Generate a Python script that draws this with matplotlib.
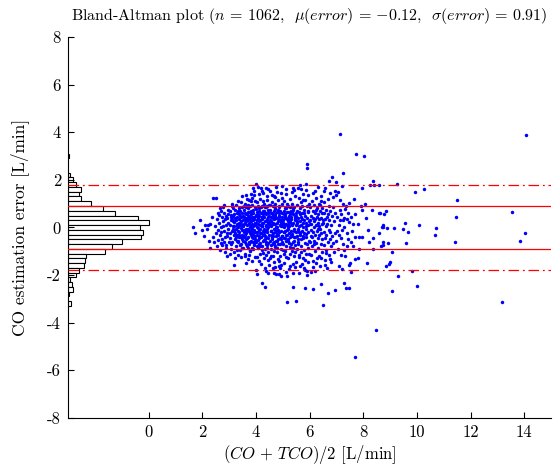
import numpy as np
import matplotlib
matplotlib.use("Agg")
import matplotlib.pyplot as plt

plt.rcParams['font.family'] = ['cmr10', 'DejaVu Serif']
plt.rcParams['mathtext.fontset'] = 'cm'
plt.rcParams['axes.unicode_minus'] = False

N_SAMPLES = 1062
MEAN_ERR = -0.12
STD_ERR = 0.91

# (mean, difference) pairs, grouped by x band
pts_left = [1.65,0.03, 1.72,-0.24, 1.90,0.32, 2.09,0.09, 2.21,0.09, 2.19,-0.08, 2.28,-0.87, 2.40,-0.41,
            2.52,-0.24, 2.40,1.24, 2.52,1.24, 2.05,-0.35, 2.30,0.15, 2.45,-0.6, 2.35,0.42, 1.98,-0.12,
            2.48,0.05, 2.25,-0.55]

pts_b = [2.69,0.71, 2.65,0.81, 2.55,0.35, 2.58,-0.1, 2.62,0.18, 2.6,-0.52, 2.66,-0.3, 2.7,0.02, 2.72,0.45,
         2.75,-0.72, 2.78,0.27, 2.8,-0.15, 2.83,0.6, 2.85,-0.4, 2.87,0.1, 2.9,-0.85, 2.92,0.38, 2.94,-0.22,
         2.96,0.75, 2.98,-0.05, 2.57,-0.78, 2.64,0.52, 2.73,-0.48, 2.77,0.85, 2.82,-0.62, 2.88,0.5,
         2.91,-0.35, 2.95,0.2, 2.99,-0.6, 2.68,-0.95, 2.86,-1.05, 2.8,0.95, 2.93,-1.2, 2.76,0.05, 2.7,-0.2,
         2.84,0.35, 2.97,0.55, 2.6,0.6, 2.89,-0.75, 2.71,-0.65]

pts_c = [3.02,0.12, 3.04,-0.45, 3.05,0.68, 3.07,-0.9, 3.08,0.3, 3.1,-0.15, 3.11,0.88, 3.12,-0.62, 3.14,0.05,
         3.15,0.5, 3.17,-1.59, 3.17,-0.32, 3.18,0.22, 3.2,-1.05, 3.21,0.72, 3.22,-0.5, 3.24,0.4, 3.25,-0.05,
         3.26,0.95, 3.27,-0.78, 3.28,0.15, 3.3,-0.3, 3.31,0.6, 3.32,-1.15, 3.33,0.02, 3.35,-0.6, 3.36,0.35,
         3.37,0.8, 3.38,-0.2, 3.4,-0.95, 3.41,0.48, 3.42,0.1, 3.43,-0.4, 3.44,1.05, 3.45,-0.7, 3.46,0.25,
         3.47,-0.1, 3.48,1.32, 3.49,0.62, 3.5,-0.5, 3.03,-0.25, 3.06,0.45, 3.09,-0.7, 3.13,0.25, 3.16,-0.05,
         3.19,0.55, 3.23,-0.25, 3.26,0.3, 3.29,-0.55, 3.32,0.7, 3.34,-0.15, 3.39,0.2, 3.42,-0.75, 3.45,0.45,
         3.48,-0.3, 3.12,1.0, 3.22,-1.3, 3.35,1.1, 3.45,-1.25, 3.28,-0.95, 3.05,-1.1, 3.15,0.8, 3.38,0.55,
         3.47,0.85, 3.2,0.05, 3.3,0.42, 3.36,-0.4, 3.43,-0.02, 3.1,0.35, 3.25,-0.42]

pts_d = [3.51,0.3, 3.52,-0.85, 3.53,0.05, 3.54,0.72, 3.55,-0.35, 3.56,0.45, 3.57,-0.1, 3.58,1.0, 3.59,-0.62,
         3.6,0.2, 3.61,-1.1, 3.62,-1.48, 3.62,0.55, 3.63,-0.25, 3.64,0.85, 3.65,-0.5, 3.66,0.1, 3.67,0.4,
         3.68,-0.8, 3.69,0.65, 3.7,-0.05, 3.71,-1.34, 3.71,0.3, 3.72,-0.4, 3.73,1.15, 3.74,-0.15, 3.75,0.5,
         3.76,-0.7, 3.77,0.0, 3.78,0.9, 3.79,-1.0, 3.8,0.25, 3.81,-0.3, 3.82,0.7, 3.83,-0.55, 3.84,0.15,
         3.85,1.25, 3.86,-0.2, 3.87,0.45, 3.88,-0.9, 3.89,1.65, 3.89,0.05, 3.9,-0.45, 3.91,0.6, 3.92,1.52,
         3.92,-0.1, 3.93,0.35, 3.94,-0.65, 3.95,0.85, 3.96,-1.25, 3.97,0.2, 3.98,-0.35, 3.99,-1.79, 3.99,0.5,
         3.53,-0.55, 3.55,0.9, 3.58,-0.3, 3.6,0.6, 3.63,-0.7, 3.65,0.35, 3.68,-0.15, 3.7,0.8, 3.73,-0.6,
         3.75,0.15, 3.77,-0.95, 3.8,0.55, 3.82,-0.1, 3.84,0.95, 3.87,-0.4, 3.9,0.3, 3.93,-0.75, 3.95,0.1,
         3.97,-0.5, 3.57,0.15, 3.62,-0.05, 3.67,-0.45, 3.72,0.45, 3.78,-0.25, 3.83,0.4, 3.88,-0.6, 3.91,0.75,
         3.96,-0.2, 3.98,1.1, 3.54,-0.2, 3.66,1.2, 3.74,-1.15, 3.81,1.4, 3.86,-1.4, 3.94,1.35, 3.59,-1.2,
         3.76,0.65, 3.85,-0.85, 3.61,0.4]

pts_e = [4.01,0.2, 4.02,1.83, 4.02,-0.6, 4.03,0.65, 4.04,-1.95, 4.04,0.0, 4.05,-0.3, 4.06,1.05, 4.07,0.4,
         4.08,-0.85, 4.09,1.71, 4.09,0.15, 4.1,-0.45, 4.11,0.8, 4.12,-0.1, 4.13,0.5, 4.14,-1.1, 4.15,0.3,
         4.16,-0.65, 4.17,1.2, 4.18,-0.25, 4.19,0.6, 4.2,1.65, 4.2,-0.4, 4.21,0.05, 4.22,0.9, 4.23,-0.8,
         4.24,-2.32, 4.24,1.55, 4.24,0.35, 4.25,-0.15, 4.26,0.7, 4.27,-0.55, 4.28,0.2, 4.29,-1.3, 4.3,1.0,
         4.31,-0.05, 4.32,0.45, 4.33,-0.9, 4.34,-2.49, 4.34,0.25, 4.35,-0.35, 4.36,0.85, 4.37,1.65, 4.37,-0.6,
         4.38,0.1, 4.39,0.55, 4.4,-0.2, 4.41,1.3, 4.42,-0.75, 4.43,0.35, 4.44,-0.45, 4.45,-1.37, 4.45,0.75,
         4.46,0.0, 4.47,-1.05, 4.48,0.5, 4.49,-1.59, 4.49,-0.3, 4.5,0.95, 4.03,-0.2, 4.06,0.3, 4.08,0.55,
         4.11,-0.7, 4.13,-0.35, 4.16,0.1, 4.18,0.85, 4.21,-0.95, 4.23,0.45, 4.26,-0.3, 4.28,1.1, 4.31,0.6,
         4.33,-0.5, 4.36,0.05, 4.38,-1.15, 4.41,0.25, 4.43,0.9, 4.46,-0.65, 4.48,0.15, 4.05,-1.25, 4.12,1.4,
         4.19,-1.55, 4.27,1.45, 4.35,-1.7, 4.42,1.15, 4.47,-1.9, 4.14,-0.05, 4.22,0.2, 4.29,-0.15, 4.39,-0.4,
         4.44,0.6, 4.07,0.9, 4.32,0.7, 4.4,-0.85, 4.15,-0.8, 4.25,0.55]

pts_f = [4.51,0.3, 4.52,-0.55, 4.53,0.75, 4.54,1.55, 4.55,-0.15, 4.56,0.45, 4.57,-0.9, 4.58,0.1, 4.59,1.05,
         4.6,-0.4, 4.61,0.6, 4.62,-1.2, 4.63,0.2, 4.64,-0.25, 4.65,0.9, 4.66,-1.92, 4.66,-0.6, 4.67,0.35,
         4.68,1.3, 4.69,-0.05, 4.7,-1.65, 4.7,0.55, 4.71,-0.8, 4.72,0.15, 4.73,0.8, 4.74,-0.35, 4.75,1.7,
         4.76,-1.95, 4.76,0.4, 4.77,-0.1, 4.78,-1.05, 4.79,0.65, 4.8,0.0, 4.81,-0.5, 4.82,1.15, 4.83,0.25,
         4.84,-0.7, 4.85,0.5, 4.86,-1.95, 4.86,-0.2, 4.87,0.85, 4.88,-1.4, 4.89,-1.69, 4.89,0.1, 4.9,-0.45,
         4.91,0.7, 4.92,-0.9, 4.93,0.3, 4.94,1.45, 4.95,-2.04, 4.95,-0.15, 4.96,0.6, 4.97,-0.6, 4.98,0.05,
         4.99,1.0, 4.52,0.95, 4.55,-0.75, 4.58,0.6, 4.61,-0.3, 4.64,0.4, 4.67,-1.0, 4.7,-0.2, 4.73,1.0,
         4.76,-0.55, 4.79,0.2, 4.82,-0.3, 4.85,0.9, 4.88,0.35, 4.91,-1.2, 4.94,0.15, 4.97,-0.35, 4.53,-1.3,
         4.6,1.35, 4.69,-1.45, 4.78,1.5, 4.87,-1.6, 4.96,1.25, 4.57,0.05, 4.63,-0.65, 4.72,0.5, 4.8,-0.85,
         4.84,0.75, 4.93,-0.5, 4.99,0.45, 4.65,0.15, 4.75,-0.15]

pts_g = [5.01,0.2, 5.02,-0.7, 5.03,0.55, 5.04,-0.2, 5.05,1.1, 5.06,0.0, 5.07,-1.0, 5.08,0.4, 5.09,-0.45,
         5.1,0.8, 5.11,-1.88, 5.11,0.15, 5.12,-0.3, 5.13,1.4, 5.14,-0.8, 5.15,0.35, 5.16,-3.14, 5.16,-0.1,
         5.17,-2.04, 5.17,0.65, 5.18,-0.55, 5.19,0.25, 5.2,-1.3, 5.21,0.9, 5.22,-0.25, 5.23,0.5, 5.24,-0.65,
         5.25,0.05, 5.26,1.2, 5.27,-0.4, 5.28,0.3, 5.29,-1.1, 5.3,0.7, 5.31,-0.15, 5.32,0.45, 5.33,-0.85,
         5.34,1.0, 5.35,-0.35, 5.36,0.1, 5.37,-1.55, 5.38,1.67, 5.38,-2.49, 5.38,-1.92, 5.38,0.55, 5.39,-0.6,
         5.4,0.2, 5.41,-0.05, 5.42,0.85, 5.43,-1.2, 5.44,0.35, 5.45,-0.4, 5.46,1.3, 5.47,-0.75, 5.48,0.6,
         5.49,-0.2, 5.5,-3.1, 5.5,0.1, 5.03,-0.45, 5.06,0.7, 5.09,0.1, 5.12,-1.25, 5.15,1.0, 5.18,0.4,
         5.21,-0.5, 5.24,0.2, 5.27,0.85, 5.3,-0.3, 5.33,0.15, 5.36,-1.0, 5.39,0.75, 5.42,-0.55, 5.45,0.45,
         5.48,-1.45, 5.05,-1.5, 5.14,1.6, 5.25,-1.75, 5.35,1.5, 5.44,-1.65, 5.2,0.0, 5.29,0.55, 5.4,-0.85,
         5.47,0.3, 5.08,-0.15, 5.32,-0.7]

pts_h = [5.51,0.5, 5.52,-0.9, 5.53,0.2, 5.54,-0.35, 5.55,0.95, 5.56,-0.1, 5.57,1.65, 5.57,0.4, 5.58,-0.6,
         5.59,0.05, 5.6,1.25, 5.61,-1.15, 5.62,0.65, 5.63,-0.3, 5.64,0.25, 5.65,-1.6, 5.66,0.8, 5.67,-0.5,
         5.68,0.1, 5.69,1.05, 5.7,-0.8, 5.71,0.35, 5.72,-0.15, 5.73,0.6, 5.74,-1.3, 5.75,1.4, 5.76,0.0,
         5.77,-0.45, 5.78,0.75, 5.79,-0.95, 5.8,0.3, 5.81,-0.25, 5.82,1.15, 5.83,-2.56, 5.83,-0.65, 5.84,0.5,
         5.85,-0.05, 5.86,1.83, 5.86,-1.1, 5.87,0.2, 5.88,1.58, 5.88,-0.4, 5.89,0.9, 5.9,2.49, 5.9,-0.7,
         5.91,2.66, 5.91,-1.82, 5.92,-2.0, 5.92,0.4, 5.93,-0.2, 5.94,0.65, 5.95,-1.45, 5.96,0.1, 5.97,1.0,
         5.98,-0.55, 5.99,0.25, 5.53,0.7, 5.56,-0.7, 5.6,-0.2, 5.64,0.55, 5.68,-1.05, 5.72,0.9, 5.76,-0.35,
         5.8,0.6, 5.84,-1.35, 5.88,0.05, 5.94,-0.85, 5.62,-1.9, 5.7,1.6, 5.78,-1.7, 5.96,1.35]

pts_i = [6.01,0.3, 6.02,-0.6, 6.03,0.85, 6.04,-0.1, 6.05,0.5, 6.06,-1.15, 6.07,-1.87, 6.07,0.15, 6.08,-0.4,
         6.09,1.1, 6.1,-0.8, 6.11,-2.57, 6.11,0.4, 6.12,-0.2, 6.13,0.7, 6.14,-1.4, 6.15,0.0, 6.16,0.95,
         6.17,-0.55, 6.18,0.25, 6.19,1.55, 6.19,-1.82, 6.2,-0.3, 6.21,0.6, 6.22,-1.0, 6.23,0.1, 6.24,1.25,
         6.25,-0.65, 6.26,0.45, 6.27,-0.15, 6.28,0.8, 6.29,-1.3, 6.3,0.2, 6.31,-0.45, 6.32,1.71, 6.32,0.55,
         6.33,-0.85, 6.34,0.05, 6.35,1.0, 6.36,-0.3, 6.37,0.35, 6.38,-1.6, 6.39,0.7, 6.4,-0.05, 6.41,-2.39,
         6.41,-0.7, 6.42,0.4, 6.43,1.3, 6.44,-0.25, 6.45,0.15, 6.46,-1.05, 6.47,0.8, 6.48,-0.5, 6.49,0.3,
         6.05,-0.35, 6.15,-0.7, 6.25,0.75, 6.35,-1.2, 6.45,0.6, 6.2,0.35, 6.3,-0.05, 6.4,0.95]

pts_j = [6.5,-3.27, 6.51,0.2, 6.52,-0.75, 6.53,0.6, 6.54,-0.2, 6.55,1.05, 6.56,-1.35, 6.57,0.35, 6.58,-0.45,
         6.59,1.65, 6.6,0.05, 6.61,-0.95, 6.62,0.75, 6.63,-0.3, 6.64,0.45, 6.65,-1.7, 6.66,0.15, 6.67,1.2,
         6.68,-0.6, 6.69,-2.76, 6.7,0.55, 6.71,-0.1, 6.72,0.9, 6.73,-1.15, 6.74,1.94, 6.74,0.3, 6.75,-0.5,
         6.76,0.7, 6.77,-0.2, 6.78,1.45, 6.79,-0.8, 6.8,0.1, 6.81,-1.45, 6.82,0.5, 6.84,2.11, 6.84,-0.35,
         6.86,0.85, 6.88,-0.65, 6.9,0.25, 6.92,-1.05, 6.94,-2.63, 6.94,1.55, 6.95,0.6, 6.96,-0.25, 6.97,1.92,
         6.98,1.37, 6.99,-0.55]

pts_k = [7.13,3.93, 7.26,2.28, 7.23,0.97, 7.31,0.76, 7.28,0.39, 7.25,0.32, 7.30,0.03, 7.16,-0.43, 7.23,-0.68,
         7.40,-0.76, 7.38,-0.24, 7.43,-0.50, 7.46,0.22, 7.16,-1.14, 7.15,0.74, 7.13,1.14, 7.46,1.04,
         7.30,-2.35, 7.35,-2.54, 7.47,-2.53, 7.50,-1.48, 7.47,-1.59, 7.02,0.45, 7.05,-0.9, 7.08,0.1, 7.1,-1.6,
         7.18,0.55, 7.2,-0.1, 7.33,-1.2, 7.42,0.6, 7.05,1.5, 7.2,1.75, 7.1,-0.3, 7.35,0.9, 7.03,-0.15,
         7.27,-0.95, 7.4,0.35, 7.12,0.3]

pts_l = [7.74,3.10, 7.94,1.65, 7.70,0.55, 7.82,0.15, 7.62,0.13, 7.70,-0.39, 7.85,-0.41, 7.95,-0.40,
         7.62,-0.79, 7.84,-0.92, 7.80,-1.28, 7.70,-1.34, 7.53,-1.88, 7.56,0.43, 7.96,0.75, 7.70,-5.44,
         7.58,-0.15, 7.9,0.9, 7.65,1.2, 7.55,-0.6]

pts_m = [8.02,2.99, 8.37,1.93, 8.25,1.79, 8.40,1.77, 8.58,1.77, 8.33,0.72, 8.85,0.71, 8.76,0.57, 8.58,0.60,
         8.62,0.62, 8.73,0.10, 8.74,0.01, 8.69,0.01, 8.87,-0.03, 8.16,-0.09, 8.58,-0.22, 8.94,-0.64,
         8.74,-0.60, 8.72,-0.75, 8.68,-0.79, 8.38,-0.45, 8.37,-0.89, 8.85,-1.62, 8.97,-1.53, 8.99,-1.44,
         8.13,-1.49, 8.46,-4.32, 8.1,0.4, 8.2,-0.6, 8.05,1.0]

pts_far = [9.24,1.81, 9.94,1.48, 10.27,1.60, 11.49,1.14, 13.56,0.66, 11.44,0.45, 14.02,-0.23, 13.83,-0.58,
           11.41,-0.62, 10.66,-0.33, 10.71,-0.02, 10.06,0.12, 9.54,0.20, 9.65,-0.19, 9.47,-0.08, 9.58,-0.64,
           9.14,-0.03, 9.07,-1.04, 9.30,-2.02, 9.80,-1.84, 9.99,-2.46, 9.07,-2.68, 13.16,-3.13, 14.06,3.87]

# extra points filling the dense core and the bands just outside +-1 sd
pts_core = [3.63,0.27, 3.87,-0.33, 4.13,0.71, 4.38,-0.17, 4.62,0.52, 4.91,-0.68, 5.18,0.11, 3.72,0.93,
            4.06,-0.78, 4.57,0.29, 4.83,-0.09, 5.07,0.47, 5.34,-0.27, 3.94,0.42, 4.29,-0.53, 4.71,0.76,
            4.96,-0.36, 5.23,0.64, 3.57,-0.41, 3.81,0.07, 4.17,-0.22, 4.44,0.18, 4.68,-0.71, 5.02,0.33,
            5.41,-0.13, 3.69,-0.87, 4.02,0.53, 4.33,0.87, 4.59,-0.47, 4.88,0.61, 5.12,-0.57, 5.29,0.23,
            3.46,0.13, 3.79,-0.62, 4.09,-0.04, 4.47,0.43, 4.74,0.03, 5.01,-0.93, 5.37,0.81, 3.33,-0.58,
            3.99,0.77, 4.26,-1.07, 4.53,0.09, 4.81,0.39, 5.16,-0.31, 5.47,0.49, 3.41,0.69, 3.74,0.37,
            4.11,0.27, 4.39,-0.71, 4.66,0.67, 4.94,0.21, 5.26,-0.83, 5.58,-0.07, 3.29,0.07, 3.61,-0.17,
            3.96,-0.58, 4.21,0.43, 4.49,0.63, 4.77,-0.29, 5.04,0.13, 5.31,0.36, 5.66,-0.24, 3.53,0.49,
            3.84,-0.08, 4.16,-0.39, 4.43,-0.07, 4.73,-0.83, 5.09,0.58, 5.43,-0.42, 5.74,0.17, 3.37,-0.33,
            3.68,0.58, 4.03,0.31, 4.31,-0.26, 4.58,-0.13, 4.86,0.47, 5.14,0.83, 5.52,0.29, 5.87,-0.28,
            3.19,-0.17, 3.49,-0.88, 3.91,-0.27, 4.24,0.08, 4.52,0.23, 4.79,-0.58, 5.06,-0.21, 5.33,0.63,
            5.69,0.42, 6.03,0.13, 3.08,0.52, 3.76,0.19, 4.07,-0.53, 4.36,0.61, 4.63,-0.37, 4.92,0.07,
            5.21,-0.07, 5.57,-0.48, 5.93,0.71, 6.27,0.09]

pts_bands = [4.12,-1.42, 4.57,-1.18, 4.83,-1.33, 5.28,-1.63, 5.62,-1.24, 5.97,-1.12, 6.23,-1.48,
             6.57,-1.58, 4.37,-1.83, 5.06,-1.12, 5.47,-1.04, 5.73,-1.53, 6.12,-1.68, 6.41,-1.27,
             6.77,-1.31, 7.21,-1.76, 4.92,-1.57, 5.83,-1.79, 6.63,-1.06, 4.62,-1.71, 3.62,1.37,
             4.47,1.63, 4.96,1.76, 5.41,1.58, 5.77,1.17, 6.13,1.43, 6.52,1.52, 3.83,1.12, 4.72,1.28,
             5.63,1.77, 6.42,1.13, 6.86,1.27]

# histogram of the error (bin centres, counts)
hist_centres = [3.0, 2.2, 2.0, 1.8, 1.6, 1.4, 1.2, 1.0, 0.8, 0.6, 0.4, 0.2, 0.0, -0.2, -0.4, -0.6, -0.8,
                -1.0, -1.2, -1.4, -1.6, -1.8, -2.0, -2.2, -2.4, -2.6, -2.8, -3.2]
hist_counts = [1, 3, 7, 11, 19, 16, 19, 33, 50, 67, 99, 114, 102, 106, 104, 76, 62,
               52, 26, 24, 22, 16, 11, 3, 5, 7, 1, 4]

pts = np.array(pts_left + pts_b + pts_c + pts_d + pts_e + pts_f + pts_g + pts_h + pts_i
               + pts_j + pts_k + pts_l + pts_m + pts_far + pts_core + pts_bands).reshape(-1, 2)

fig = plt.figure(figsize=(5.55, 4.67), dpi=100)
ax = fig.add_axes([0.1225, 0.105, 0.8705, 0.816])

x_lo, x_hi = -3, 15
counts = np.array(hist_counts, dtype=float)
ax.barh(hist_centres, counts / counts.max() * 3, left=x_lo, height=0.2,
        color='white', edgecolor='black', linewidth=0.8, zorder=1)

ax.plot(pts[:, 0], pts[:, 1], 'o', color='blue', ms=2.5, mew=0, zorder=2)

for s in (1, -1):
    ax.axhline(s * STD_ERR, color='red', ls='-', lw=0.9, zorder=3)
    ax.axhline(s * 1.96 * STD_ERR, color='red', lw=0.9, dashes=(8.5, 3, 1.5, 3), zorder=3)

ax.set_xlim(x_lo, x_hi)
ax.set_ylim(-8, 8)
ax.set_xticks(np.arange(0, 15, 2))
ax.set_yticks(np.arange(-8, 9, 2))
ax.spines['top'].set_visible(False)
ax.spines['right'].set_visible(False)
ax.tick_params(direction='in', length=4, width=0.8, labelsize=12, pad=5)

ax.set_title(r'Bland-Altman plot ($n\,=\,%d$,  $\mu(error)\,=\,{%.2f}$,  $\sigma(error)\,=\,{%.2f}$)'
             % (N_SAMPLES, MEAN_ERR, STD_ERR), fontsize=11.5, pad=12)
ax.set_xlabel(r'$(CO\,+\,TCO)/2$ [L/min]', fontsize=12, labelpad=2)
ax.set_ylabel('CO estimation error [L/min]', fontsize=12.5, labelpad=13)

plt.savefig('out.png', dpi=100)
